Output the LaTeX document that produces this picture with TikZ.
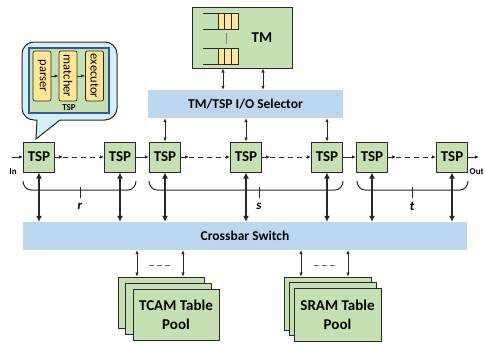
\documentclass[tikz,border=0pt]{standalone}
\usepackage{fontspec}
\setmainfont{Carlito}
\usetikzlibrary{arrows.meta,calc}
\definecolor{tgreen}{RGB}{198,224,180}
\definecolor{tblue}{RGB}{189,215,238}
\definecolor{tyellow}{RGB}{255,230,153}
\definecolor{tcyan}{RGB}{214,238,245}
\definecolor{tborder}{RGB}{40,40,40}
\definecolor{innerblue}{RGB}{46,90,154}
\begin{document}
\begin{tikzpicture}[x=1pt,y=-1pt,
  tspbox/.style={draw=tborder,line width=1pt,fill=tgreen,minimum width=31pt,minimum height=30pt,inner sep=0pt,font=\fontsize{15}{17}\selectfont\bfseries},
  barbox/.style={fill=tblue,inner sep=0pt,font=\fontsize{13.5}{15}\selectfont\bfseries},
  arr/.style={-{Latex[length=4pt,width=3.5pt]},line width=0.8pt,draw=tborder},
  darr/.style={{Latex[length=6pt,width=6pt]}-{Latex[length=6pt,width=6pt]},line width=1.4pt,draw=tborder},
  tarr/.style={{Latex[length=4pt,width=3.5pt]}-{Latex[length=4pt,width=3.5pt]},line width=0.7pt,draw=tborder},
  dsh/.style={dashed,dash pattern=on 5pt off 4pt,line width=0.8pt,draw=tborder},
  bracepath/.style={line width=1pt,draw=tborder},
  poolbox/.style={draw=tborder,line width=0.8pt,fill=tgreen,minimum width=86pt,minimum height=51pt,inner sep=0pt},
  ybox/.style={draw=tborder,line width=0.7pt,fill=tyellow,rounded corners=2pt,minimum width=18pt,minimum height=50pt,inner sep=0pt},
  ytext/.style={rotate=-90,font=\fontsize{12.5}{13}\selectfont}
]
\useasboundingbox (0,0) rectangle (485,343);

% TM box
\node[draw=tborder,line width=1pt,fill=tgreen,minimum width=100pt,minimum height=61pt,inner sep=0pt] (tm) at (242,37.5) {};
\node[font=\fontsize{15}{17}\selectfont\bfseries] (tmlab) at (262,38) {TM};
% queues
\foreach \yy in {13,48}{
  \fill[tyellow] (218,\yy) rectangle (238,\yy+16);
  \draw[tborder,line width=0.7pt] (203,\yy) -- (238,\yy) -- (238,\yy+16) -- (203,\yy+16);
  \draw[tborder,line width=0.7pt] (218,\yy) -- (218,\yy+16) (224.7,\yy) -- (224.7,\yy+16) (231.3,\yy) -- (231.3,\yy+16);
}
\draw[gray,line width=0.8pt] (226,33) -- (226,44);

% selector
\node[barbox,minimum width=195pt,minimum height=28pt] (sel) at (245.5,104) {TM/TSP I/O Selector};
\draw[tarr] (tm.south -| 223,0) -- (sel.north -| 223,0);
\draw[tarr] (tm.south -| 263,0) -- (sel.north -| 263,0);

% crossbar
\node[barbox,minimum width=444pt,minimum height=28pt] (cb) at (245,236) {Crossbar Switch};

% TSPs
\node[tspbox] (t1) at (39,157) {TSP};
\node[tspbox] (t2) at (120,157) {TSP};
\node[tspbox] (t3) at (165,157) {TSP};
\node[tspbox] (t4) at (246,157) {TSP};
\node[tspbox] (t5) at (327,157) {TSP};
\node[tspbox] (t6) at (372,157) {TSP};
\node[tspbox] (t7) at (452,157) {TSP};

% In / Out
\coordinate (inS) at (12,157);
\coordinate (outE) at (479,157);
\draw[arr] (inS) -- (t1.west);
\draw[arr] (t7.east) -- (outE);
\node[font=\fontsize{9}{10}\selectfont\bfseries] (inlab) at (13,172) {In};
\node[font=\fontsize{9}{10}\selectfont\bfseries,anchor=west,inner sep=0pt] (outlab) at (469.5,172) {Out};

% horizontal links
\foreach \a/\b in {t1/t2,t3/t4,t4/t5,t6/t7}{
  \draw[arr] (\a.east) -- ++(8,0) coordinate (c\a);
  \draw[dsh] (c\a) -- ($(\b.west)+(-4,0)$);
  \draw[arr] ($(\b.west)+(-5,0)$) -- (\b.west);
}
\draw[arr] (t2.east) -- (t3.west);
\draw[arr] (t5.east) -- (t6.west);

% selector to TSPs
\foreach \q in {t3,t4,t5}{
  \draw[tarr] (\q.north |- sel.south) -- (\q.north);
}

% braces
\foreach \xa/\xb/\xm/\lab in {23/136/80/r,149/343/259/s,357/468/412/t}{
  \draw[bracepath] (\xa,181) to[out=-90,in=180] (\xa+8,190) -- (\xb-8,190) to[out=0,in=-90] (\xb,181);
  \draw[bracepath] (\xm,187) -- (\xm,198);
  \node[font=\fontsize{13}{14}\selectfont\bfseries\itshape] at (\xm,206) {\lab};
}

% TSP to crossbar
\foreach \q in {t1,t2,t3,t4,t5,t6,t7}{
  \draw[darr] (\q.south) -- (\q.south |- cb.north);
}

% pools
\node[poolbox] (ta) at (161,302.5) {};
\node[poolbox] (tb) at (168.5,308.5) {};
\node[poolbox,font=\fontsize{15}{19}\selectfont\bfseries,align=center] (tc) at (176,314.5) {TCAM Table\\Pool};
\node[poolbox,minimum width=87pt,minimum height=53pt] (sa) at (327.5,303.5) {};
\node[poolbox,minimum width=87pt,minimum height=53pt] (sb) at (332.5,309) {};
\node[poolbox,minimum width=87pt,minimum height=53pt,font=\fontsize{15}{19}\selectfont\bfseries,align=center] (sc) at (337.5,314.5) {SRAM Table\\Pool};

\foreach \xx in {137,183}{ \draw[tarr] (cb.south -| \xx,0) -- (ta.north -| \xx,0); }
\foreach \xx in {301,348}{ \draw[tarr] (cb.south -| \xx,0) -- (sa.north -| \xx,0); }
\draw[gray!80!black,line width=0.9pt,dash pattern=on 5pt off 3pt] (149,265) -- (170,265);
\draw[gray!80!black,line width=0.9pt,dash pattern=on 5pt off 3pt] (314,265) -- (335,265);

% callout
\draw[tborder,line width=1pt,fill=tcyan] (22,54) [rounded corners=12pt] -- (22,42) -- (117,42) -- (117,120) [sharp corners] -- (60,120) -- (36,139) -- (37,120) [rounded corners=12pt] -- (22,120) -- (22,54);
\node[draw=innerblue,line width=1.2pt,fill=tgreen,minimum width=80pt,minimum height=65pt,inner sep=0pt] (inner) at (69,80.5) {};
\node[ybox] (yp) at (42,76) {};
\node[ybox] (ym) at (68,76) {};
\node[ybox] (ye) at (94.5,76) {};
\node[ytext] at (yp) {parser};
\node[ytext] at (ym) {matcher};
\node[ytext] at (ye) {executor};
\draw[arr,line width=0.7pt] (yp.east) -- (ym.west);
\draw[arr,line width=0.7pt] (ym.east) -- (ye.west);
\node[font=\fontsize{9}{10}\selectfont\bfseries] (tsplab) at (69,107.5) {TSP};
\end{tikzpicture}
\end{document}
